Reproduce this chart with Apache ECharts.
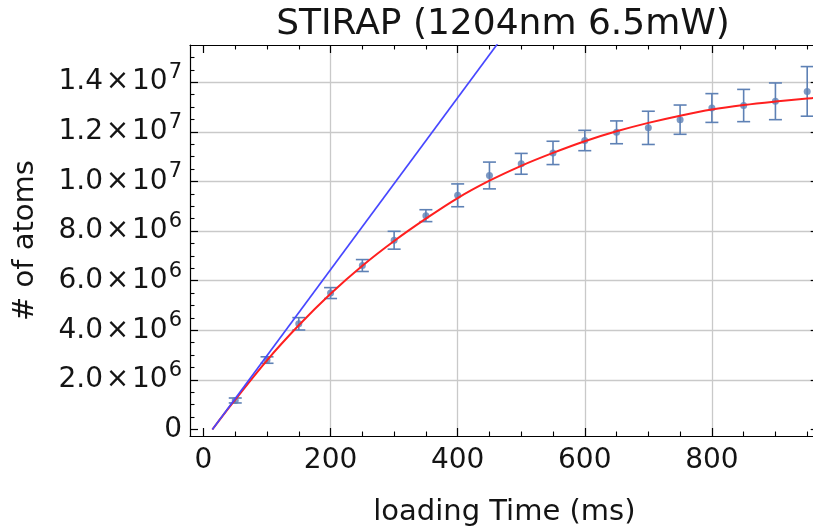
<!DOCTYPE html>
<html><head><meta charset="utf-8">
<script src="https://cdn.jsdelivr.net/npm/echarts@6/dist/echarts.min.js"></script>
<style>html,body{margin:0;padding:0;background:#fff}#c{width:813px;height:532px}</style>
</head><body><div id="c"></div>
<script>
// ---- texts ----
const titleText = 'STIRAP (1204nm 6.5mW)';
const xAxisName = 'loading Time (ms)';
const yAxisName = '# of atoms';

// ---- measured data (loading time in ms, number of atoms) ----
const loadTimes = [50, 100, 150, 200, 250, 300, 350, 400, 450, 500, 550, 600, 650, 700, 750, 800, 850, 900, 950];
const atomCounts = [1.17e6, 2.80e6, 4.26e6, 5.50e6, 6.61e6, 7.63e6, 8.62e6, 9.44e6, 10.24e6, 10.71e6, 11.15e6, 11.65e6, 11.98e6, 12.16e6, 12.49e6, 12.96e6, 13.06e6, 13.23e6, 13.63e6];
const atomErrors = [0.10e6, 0.13e6, 0.25e6, 0.22e6, 0.24e6, 0.36e6, 0.24e6, 0.46e6, 0.54e6, 0.42e6, 0.47e6, 0.41e6, 0.46e6, 0.67e6, 0.59e6, 0.58e6, 0.65e6, 0.74e6, 1.00e6];

// ---- fitted loading curve (red) ----
const fitTimes = [14, 50, 100, 150, 200, 250, 300, 350, 400, 450, 500, 550, 600, 650, 700, 750, 800, 850, 900, 950, 968];
const fitAtoms = [0, 1.20e6, 2.79e6, 4.20e6, 5.47e6, 6.60e6, 7.60e6, 8.50e6, 9.33e6, 10.03e6, 10.63e6, 11.15e6, 11.62e6, 12.02e6, 12.36e6, 12.65e6, 12.90e6, 13.08e6, 13.22e6, 13.34e6, 13.38e6];

// ---- initial loading-rate line (blue) ----
const slopeTimes = [14, 470];
const slopeAtoms = [0, 15.8e6];

// ---- ticks ----
const xMajorTicks = [0, 200, 400, 600, 800];
const xMinorTicks = [50, 100, 150, 250, 300, 350, 450, 500, 550, 650, 700, 750, 850, 900, 950];
const xGridLines = [200, 400, 600, 800];
const yMajorTicks = [0, 2e6, 4e6, 6e6, 8e6, 10e6, 12e6, 14e6];
const yMinorTicks = [0.5e6, 1e6, 1.5e6, 2.5e6, 3e6, 3.5e6, 4.5e6, 5e6, 5.5e6, 6.5e6, 7e6, 7.5e6, 8.5e6, 9e6, 9.5e6, 10.5e6, 11e6, 11.5e6, 12.5e6, 13e6, 13.5e6, 14.5e6, 15e6];
const yGridLines = [2e6, 4e6, 6e6, 8e6, 10e6, 12e6, 14e6];

const X_MIN = -21.2, X_MAX = 968.1, Y_MIN = -0.262e6, Y_MAX = 15.5e6;
const FONT = 'DejaVu Sans';
const TXT = '#141414';
const PT = '#5e81b5';

function sci(v) {
  if (v === 0) return '{m|0}';
  const e = Math.floor(Math.log10(v) + 1e-9);
  const m = (v / Math.pow(10, e)).toFixed(1);
  return '{m|' + m + '\u200a\u00d7\u200a10}{s|' + e + '}';
}

const gridBox = {right: -5.7, left: 190, top: 45, bottom: 96, containLabel: false, outerBoundsMode: 'none'};
const off = {
  axisLine: {show: false, onZero: false}, axisTick: {show: false}, axisLabel: {show: false},
  splitLine: {show: false}, minorTick: {show: false}, minorSplitLine: {show: false}
};
function ax(base, extra) { return Object.assign({type: 'value'}, off, base, extra); }
const xb = {min: X_MIN, max: X_MAX};
const yb = {min: Y_MIN, max: Y_MAX};
const frameLine = {show: true, onZero: false, lineStyle: {color: '#000', width: 1.2}};
const noLine = {show: false, onZero: false};
const majTick = (vals) => ({show: true, inside: true, length: 8, customValues: vals, lineStyle: {color: '#000', width: 1.2}});
const minTick = (vals) => ({show: true, inside: true, length: 4.5, customValues: vals, lineStyle: {color: '#000', width: 1.1}});
const gridLineStyle = {show: true, lineStyle: {color: '#c9c9c9', width: 1.3}};

const option = {
  animation: false,
  backgroundColor: '#fff',
  graphic: [{
    type: 'text', x: 503, y: 25, z: 10,
    style: {text: titleText, font: '36px "' + FONT + '"', fill: TXT, align: 'center', verticalAlign: 'middle', textAlign: 'center', textVerticalAlign: 'middle'}
  }],
  grid: [Object.assign({}, gridBox), Object.assign({}, gridBox), Object.assign({}, gridBox)],
  xAxis: [
    ax(xb, {gridIndex: 0, position: 'bottom', axisLine: frameLine, axisTick: majTick(xMajorTicks),
      axisLabel: {show: true, customValues: xMajorTicks, margin: 11, fontFamily: FONT, fontSize: 28, color: TXT},
      name: xAxisName, nameLocation: 'middle', nameGap: 62, nameMoveOverlap: false,
      nameTextStyle: {fontFamily: FONT, fontSize: 29, color: TXT}}),
    ax(xb, {gridIndex: 0, position: 'top', axisLine: frameLine, axisTick: majTick(xMajorTicks)}),
    ax(xb, {gridIndex: 1, position: 'bottom', axisLine: noLine, axisTick: minTick(xMinorTicks)}),
    ax(xb, {gridIndex: 1, position: 'top', axisLine: noLine, axisTick: minTick(xMinorTicks)}),
    ax(xb, {gridIndex: 2, position: 'bottom', axisLine: noLine, axisTick: {show: false, customValues: xGridLines}, splitLine: gridLineStyle})
  ],
  yAxis: [
    ax(yb, {gridIndex: 0, position: 'left', axisLine: frameLine, axisTick: majTick(yMajorTicks),
      axisLabel: {show: true, customValues: yMajorTicks, margin: 8, formatter: sci,
        rich: {
          m: {fontFamily: FONT, fontSize: 28, color: TXT},
          s: {fontFamily: FONT, fontSize: 21, color: TXT, padding: [0, 0, 19, 1]}
        }},
      name: yAxisName, nameLocation: 'middle', nameGap: 150, nameMoveOverlap: false,
      nameTextStyle: {fontFamily: FONT, fontSize: 29, color: TXT}}),
    ax(yb, {gridIndex: 0, position: 'right', axisLine: frameLine, axisTick: majTick(yMajorTicks)}),
    ax(yb, {gridIndex: 1, position: 'left', axisLine: noLine, axisTick: minTick(yMinorTicks)}),
    ax(yb, {gridIndex: 1, position: 'right', axisLine: noLine, axisTick: minTick(yMinorTicks)}),
    ax(yb, {gridIndex: 2, position: 'left', axisLine: noLine, axisTick: {show: false, customValues: yGridLines}, splitLine: gridLineStyle})
  ],
  series: [
    {
      type: 'custom', name: 'errors', xAxisIndex: 0, yAxisIndex: 0, z: 3,
      data: loadTimes.map((t, i) => [t, atomCounts[i] - atomErrors[i], atomCounts[i] + atomErrors[i]]),
      encode: {x: 0, y: [1, 2]},
      renderItem: function (params, api) {
        const t = api.value(0);
        const lo = api.coord([t, api.value(1)]);
        const hi = api.coord([t, api.value(2)]);
        const w = 6.5;
        const st = {stroke: PT, lineWidth: 1.6, fill: null};
        return {type: 'group', children: [
          {type: 'line', shape: {x1: lo[0], y1: lo[1], x2: hi[0], y2: hi[1]}, style: st},
          {type: 'line', shape: {x1: lo[0] - w, y1: lo[1], x2: lo[0] + w, y2: lo[1]}, style: st},
          {type: 'line', shape: {x1: hi[0] - w, y1: hi[1], x2: hi[0] + w, y2: hi[1]}, style: st}
        ]};
      }
    },
    {
      type: 'scatter', name: 'data', xAxisIndex: 0, yAxisIndex: 0, z: 4,
      symbol: 'circle', symbolSize: 7, itemStyle: {color: PT},
      data: loadTimes.map((t, i) => [t, atomCounts[i]])
    },
    {
      type: 'line', name: 'fit', xAxisIndex: 0, yAxisIndex: 0, z: 5,
      showSymbol: false, symbol: 'none', smooth: 0.35,
      lineStyle: {color: '#ff1f1f', width: 2},
      data: fitTimes.map((t, i) => [t, fitAtoms[i]])
    },
    {
      type: 'line', name: 'slope', xAxisIndex: 0, yAxisIndex: 0, z: 5,
      showSymbol: false, symbol: 'none', clip: true,
      lineStyle: {color: '#4747ff', width: 1.7},
      data: slopeTimes.map((t, i) => [t, slopeAtoms[i]])
    }
  ]
};
const chart = echarts.init(document.getElementById('c'));
chart.setOption(option);
</script>
</body></html>
